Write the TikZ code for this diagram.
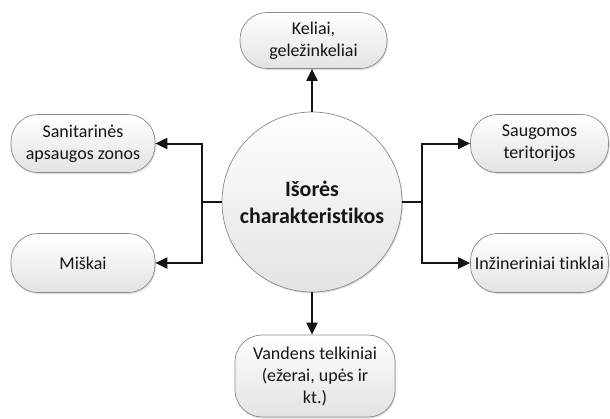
\documentclass[tikz,border=0pt]{standalone}
\usepackage{fontspec}
\setmainfont{Carlito}[Ligatures={NoCommon}]
\usetikzlibrary{arrows.meta,shadows}
\definecolor{edge}{HTML}{8A8A8A}
\definecolor{ink}{HTML}{151515}
\tikzset{
  box/.style={draw=edge, line width=0.7pt, rounded corners=27pt,
    top color=white, bottom color=gray!22, text=ink, align=center,
    inner sep=2pt, font=\fontsize{18}{22}\selectfont,
    drop shadow={opacity=0.25, shadow xshift=1pt, shadow yshift=-1.5pt}},
  hub/.style={circle, draw=edge, line width=0.7pt, minimum size=180pt,
    top color=white, bottom color=gray!22, text=ink, align=center,
    inner sep=0pt, font=\fontsize{22}{27}\selectfont\bfseries,
    drop shadow={opacity=0.25, shadow xshift=1pt, shadow yshift=-1.5pt}},
  link/.style={draw=ink, line width=2pt},
  arr/.style={link, -{Triangle[length=12pt,width=11pt]}},
}
\begin{document}
\begin{tikzpicture}[x=1pt,y=-1pt]
\useasboundingbox (0,0) rectangle (610,418);
\node[hub] (c) at (312,202) {Išorės\\charakteristikos};
\node[box, minimum width=147pt, minimum height=56pt] (top) at (313.5,40.5) {Keliai,\\geležinkeliai};
\node[box, minimum width=144pt, minimum height=58pt] (san) at (83,143.5) {Sanitarinės\\apsaugos zonos};
\node[box, minimum width=144pt, minimum height=59pt] (misk) at (83,263) {Miškai};
\node[box, minimum width=138pt, minimum height=58pt] (saug) at (539.5,143.5) {Saugomos\\teritorijos};
\node[box, minimum width=138pt, minimum height=59pt] (inz) at (539.5,263) {Inžineriniai tinklai};
\node[box, minimum width=160pt, minimum height=82pt] (bot) at (315,376) {Vandens telkiniai\\(ežerai, upės ir\\kt.)};
% connectors
\draw[arr] (c.north) -- (c.north |- top.south);
\draw[arr] (c.south) -- (c.south |- bot.north);
\draw[link] (c.west) -- ++(-20,0) coordinate (lj);
\draw[arr] (lj) |- (san.east);
\draw[arr] (lj) |- (misk.east);
\draw[link] (c.east) -- ++(20,0) coordinate (rj);
\draw[arr] (rj) |- (saug.west);
\draw[arr] (rj) |- (inz.west);
\end{tikzpicture}
\end{document}
